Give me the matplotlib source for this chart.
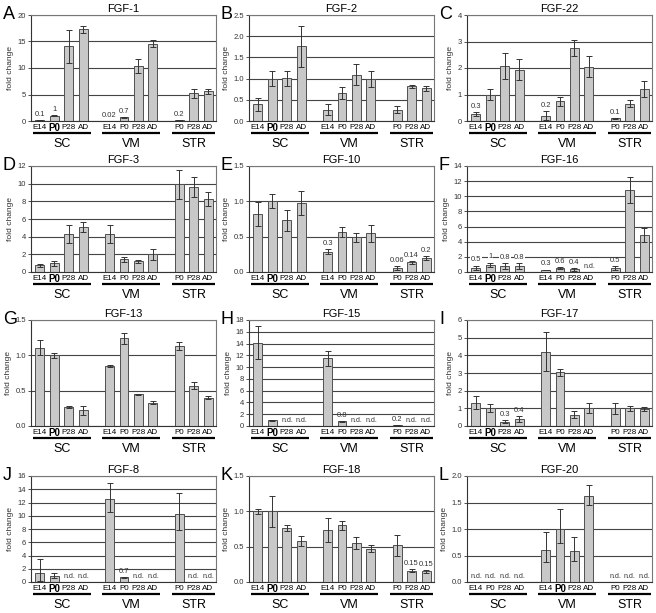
import numpy as np
import matplotlib.pyplot as plt
from matplotlib.transforms import ScaledTranslation

nan = np.nan

stages = ['E14', 'P0', 'P28', 'AD', 'E14', 'P0', 'P28', 'AD', 'P0', 'P28', 'AD']
groups = ['SC', 'VM', 'STR']
group_idx = [(0, 3), (4, 7), (8, 10)]

# FGF-1
fgf1_val = [0.1, 1.0, 14.1, 17.3, 0.02, 0.7, 10.4, 14.6, 0.2, 5.2, 5.6]
fgf1_err = [0, 0.1, 3.1, 0.7, 0, 0.1, 1.3, 0.7, 0.05, 0.8, 0.5]
fgf1_lab = ['0.1', '1', None, None, '0.02', '0.7', None, None, '0.2', None, None]
# FGF-2
fgf2_val = [0.39, 1.0, 1.01, 1.76, 0.27, 0.67, 1.09, 0.99, 0.27, 0.82, 0.77]
fgf2_err = [0.16, 0.17, 0.18, 0.48, 0.14, 0.14, 0.25, 0.18, 0.09, 0.04, 0.06]
fgf2_lab = [None] * 11
# FGF-22
fgf22_val = [0.27, 1.0, 2.08, 1.93, 0.2, 0.74, 2.74, 2.05, 0.1, 0.66, 1.2]
fgf22_err = [0.08, 0.22, 0.48, 0.4, 0.17, 0.17, 0.3, 0.4, 0.02, 0.12, 0.3]
fgf22_lab = ['0.3', None, None, None, '0.2', None, None, None, '0.1', None, None]
# FGF-3
fgf3_val = [0.75, 1.0, 4.3, 5.1, 4.3, 1.45, 1.2, 2.0, 9.95, 9.6, 8.25]
fgf3_err = [0.2, 0.3, 1.0, 0.6, 1.0, 0.3, 0.2, 0.65, 1.65, 1.15, 0.8]
fgf3_lab = [None] * 11
# FGF-10
fgf10_val = [0.82, 1.0, 0.73, 0.97, 0.29, 0.56, 0.49, 0.55, 0.06, 0.14, 0.2]
fgf10_err = [0.17, 0.1, 0.15, 0.17, 0.03, 0.07, 0.06, 0.12, 0.03, 0.02, 0.03]
fgf10_lab = [None, None, None, None, '0.3', None, None, None, '0.06', '0.14', '0.2']
# FGF-16
fgf16_val = [0.55, 0.95, 0.8, 0.8, 0.3, 0.55, 0.35, nan, 0.5, 10.8, 4.9]
fgf16_err = [0.3, 0.3, 0.35, 0.35, 0.02, 0.15, 0.2, 0, 0.3, 1.7, 0.9]
fgf16_lab = ['0.5', '1', '0.8', '0.8', '0.3', '0.6', '0.4', 'n.d.', '0.5', None, None]
# FGF-13
fgf13_val = [1.11, 1.0, 0.27, 0.22, 0.85, 1.24, 0.45, 0.33, 1.13, 0.57, 0.4]
fgf13_err = [0.11, 0.04, 0.01, 0.06, 0.01, 0.08, 0.005, 0.02, 0.06, 0.05, 0.02]
fgf13_lab = [None] * 11
# FGF-15
fgf15_val = [14.1, 0.95, nan, nan, 11.5, 0.8, nan, nan, 0.2, nan, nan]
fgf15_err = [2.8, 0.15, 0, 0, 1.3, 0.05, 0, 0, 0, 0, 0]
fgf15_lab = [None, None, 'n.d.', 'n.d.', None, '0.8', 'n.d.', 'n.d.', '0.2', 'n.d.', 'n.d.']
# FGF-17
fgf17_val = [1.33, 1.0, 0.25, 0.38, 4.2, 3.05, 0.65, 1.0, 1.0, 1.0, 0.97]
fgf17_err = [0.38, 0.22, 0.1, 0.18, 1.1, 0.2, 0.2, 0.28, 0.32, 0.15, 0.1]
fgf17_lab = [None, None, '0.3', '0.4', None, None, None, None, None, None, None]
# FGF-8
fgf8_val = [1.4, 0.95, nan, nan, 12.6, 0.7, nan, nan, 10.3, nan, nan]
fgf8_err = [[1.3, 0.4, 0, 0, 2.1, 0.05, 0, 0, 2.5, 0, 0],
            [2.0, 0.4, 0, 0, 2.4, 0.05, 0, 0, 3.2, 0, 0]]
fgf8_lab = [None, None, 'n.d.', 'n.d.', None, '0.7', 'n.d.', 'n.d.', None, 'n.d.', 'n.d.']
# FGF-18
fgf18_val = [1.0, 1.0, 0.76, 0.58, 0.74, 0.8, 0.55, 0.47, 0.52, 0.16, 0.15]
fgf18_err = [0.04, 0.22, 0.04, 0.07, 0.17, 0.06, 0.09, 0.05, 0.15, 0.02, 0.02]
fgf18_lab = [None] * 9 + ['0.15', '0.15']
# FGF-20
fgf20_val = [nan, nan, nan, nan, 0.6, 1.0, 0.58, 1.63, nan, nan, nan]
fgf20_err = [[0, 0, 0, 0, 0.22, 0.27, 0.18, 0.18, 0, 0, 0],
             [0, 0, 0, 0, 0.35, 0.37, 0.27, 0.2, 0, 0, 0]]
fgf20_lab = ['n.d.'] * 4 + [None] * 4 + ['n.d.'] * 3

panels = [
    ('A', 'FGF-1', fgf1_val, fgf1_err, fgf1_lab, 20, 5, 1),
    ('B', 'FGF-2', fgf2_val, fgf2_err, fgf2_lab, 2.5, 0.5, 1),
    ('C', 'FGF-22', fgf22_val, fgf22_err, fgf22_lab, 4, 1, 1),
    ('D', 'FGF-3', fgf3_val, fgf3_err, fgf3_lab, 12, 2, 1),
    ('E', 'FGF-10', fgf10_val, fgf10_err, fgf10_lab, 1.5, 0.5, 1),
    ('F', 'FGF-16', fgf16_val, fgf16_err, fgf16_lab, 14, 2, 1),
    ('G', 'FGF-13', fgf13_val, fgf13_err, fgf13_lab, 1.5, 0.5, 1),
    ('H', 'FGF-15', fgf15_val, fgf15_err, fgf15_lab, 18, 2, 1),
    ('I', 'FGF-17', fgf17_val, fgf17_err, fgf17_lab, 6, 1, 1),
    ('J', 'FGF-8', fgf8_val, fgf8_err, fgf8_lab, 16, 2, 1),
    ('K', 'FGF-18', fgf18_val, fgf18_err, fgf18_lab, 1.5, 0.5, 1),
    ('L', 'FGF-20', fgf20_val, fgf20_err, fgf20_lab, 2.0, 0.5, 5),
]

x = np.array([0, 1, 2, 3, 4.8, 5.8, 6.8, 7.8, 9.6, 10.6, 11.6])

W, H = 656, 613
fig = plt.figure(figsize=(W / 100, H / 100), dpi=100)
plt.rcParams['font.family'] = ['Liberation Sans', 'DejaVu Sans']

col_left = [31, 249, 467]
row_top = [15, 166, 320, 476]
aw, ah = 185, 106

for i, (letter, name, vals, err, labs, ymax, step, bold_i) in enumerate(panels):
    r, c = divmod(i, 3)
    l, t = col_left[c], row_top[r]
    ax = fig.add_axes([l / W, 1 - (t + ah) / H, aw / W, ah / H])
    ax.set_axisbelow(True)
    ax.yaxis.grid(True, color='#444444', lw=0.8)
    v = np.array(vals, dtype=float)
    ax.bar(x, np.nan_to_num(v), width=0.62, color='#c8c8c8', edgecolor='#505050', lw=0.7)
    e = np.array(err, dtype=float)
    ok = ~np.isnan(v)
    if e.ndim == 1:
        ee = e[ok]
    else:
        ee = e[:, ok]
    ax.errorbar(x[ok], v[ok], yerr=ee, fmt='none', ecolor='#333333', elinewidth=0.7,
                capsize=2.2, capthick=0.7)
    top = np.nan_to_num(v) + (e if e.ndim == 1 else e[1])
    for j, s in enumerate(labs):
        if s is None:
            continue
        yy = 0 if s == 'n.d.' else top[j]
        fs = 5 if s == 'n.d.' else 5.5
        bb = dict(facecolor='white', edgecolor='none', pad=0.2) if name == 'FGF-16' and j < 4 else None
        ax.annotate(s, (x[j], yy), xytext=(0, 1.5), textcoords='offset points',
                    ha='center', va='bottom', fontsize=fs, color='#333333', bbox=bb)
    ax.set_xlim(-0.62, 12.15)
    ax.set_ylim(0, ymax)
    ticks = np.arange(0, ymax + step / 2, step)
    ax.set_yticks(ticks)
    if step < 1:
        ax.set_yticklabels(['%.1f' % tk for tk in ticks])
    else:
        ax.set_yticklabels(['%d' % tk for tk in ticks])
    ax.tick_params(axis='y', labelsize=5.5, length=2, width=0.6, pad=1.5, colors='#333333')
    ax.set_xticks(x)
    ax.set_xticklabels(stages, fontsize=5.8)
    ax.tick_params(axis='x', length=0, pad=2.5)
    bl = ax.get_xticklabels()[bold_i]
    bl.set_fontweight('bold')
    bl.set_fontsize(7)
    bl.set_transform(bl.get_transform() + ScaledTranslation(0, 1.2 / 72, fig.dpi_scale_trans))
    for sp in ax.spines.values():
        sp.set_color('#777777')
        sp.set_linewidth(0.8)
    ax.spines['left'].set_color('#333333')
    ax.spines['bottom'].set_color('#333333')
    ax.set_ylabel('fold change', fontsize=6, labelpad=2.5, color='#333333')
    ax.set_title(name, fontsize=8, pad=2)
    for (a, b), g in zip(group_idx, groups):
        ax.plot([x[a] - 0.5, x[b] + 0.5], [-0.11, -0.11], color='black', lw=1.6,
                transform=ax.get_xaxis_transform(), clip_on=False, solid_capstyle='butt')
        ax.text((x[a] + x[b]) / 2, -0.215, g, ha='center', va='center', fontsize=9,
                transform=ax.get_xaxis_transform())
    fig.text((l - 28) / W, 1 - (t + 4) / H, letter, fontsize=13, ha='left', va='baseline')

fig.savefig('out.png', dpi=100)
